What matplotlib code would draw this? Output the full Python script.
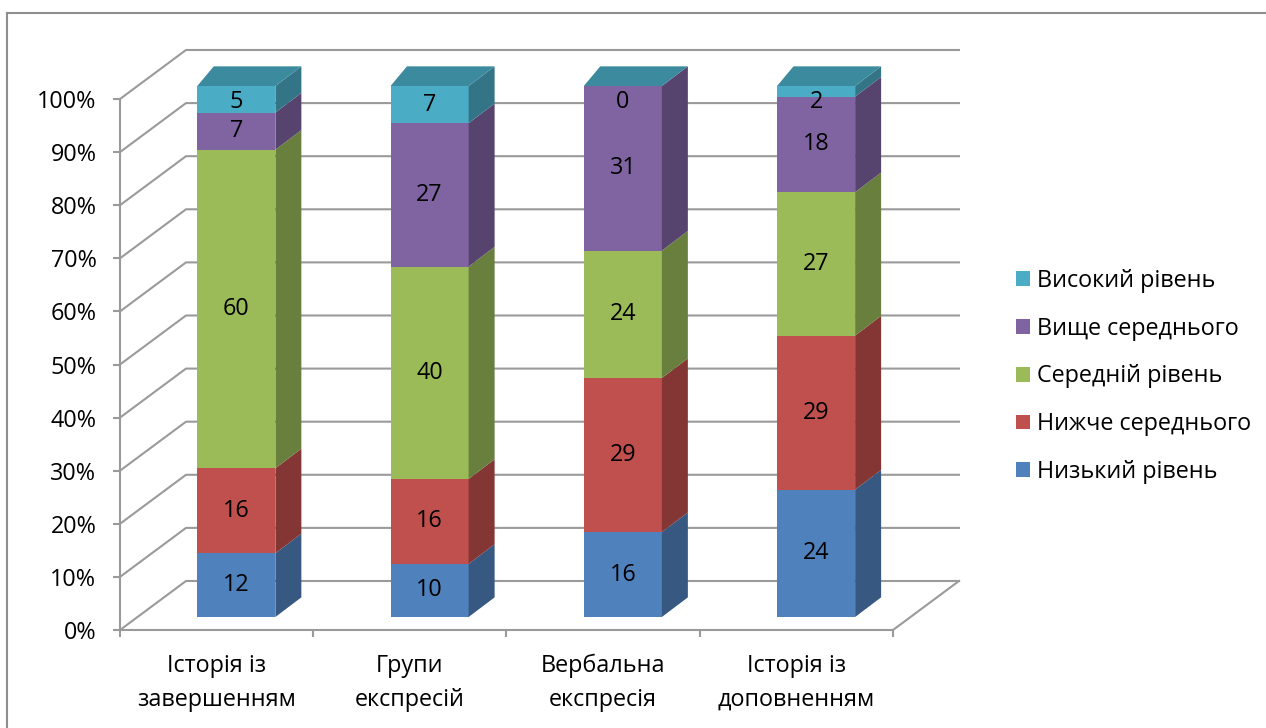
import numpy as np
import matplotlib.pyplot as plt
from matplotlib.patches import Polygon, Patch
from matplotlib.lines import Line2D
from matplotlib.colors import to_rgb

plt.rcParams['font.family'] = ['Open Sans', 'DejaVu Sans']

categories = ['Історія із\nзавершенням', 'Групи\nекспресій',
              'Вербальна\nекспресія', 'Історія із\nдоповненням']
series_names = ['Низький рівень', 'Нижче середнього', 'Середній рівень',
                'Вище середнього', 'Високий рівень']
low = [12, 10, 16, 24]
below_mid = [16, 16, 29, 29]
middle = [60, 40, 24, 27]
above_mid = [7, 27, 31, 18]
high = [5, 7, 0, 2]
y_ticks = list(range(0, 101, 10))
y_labels = [f'{t}%' for t in y_ticks]

colors = ['#4F81BD', '#C0504D', '#9BBB59', '#8064A2', '#4BACC6']
grid_c = '#9A9A9A'
fs = 16.8

# fake 3d: wall depth and bar geometry in data units
DX, DY = 0.3415, 9.23
bar_w, bar_off, bar_lift = 0.404, 0.4, 2.45
side_dx, side_dy, top_dx = 0.1345, 3.7, 0.085


def shade(c, k):
    return tuple(v * k for v in to_rgb(c))


fig = plt.figure(figsize=(12.66, 7.28), dpi=100)
ax = fig.add_axes([120 / 1266, 98 / 728, 773 / 1266, 531 / 728])
ax.set_xlim(0, len(categories))
ax.set_ylim(0, 100)

# walls and floor
n = len(categories)
for t in y_ticks:
    ax.plot([0, DX, n + DX], [t, t + DY, t + DY], color=grid_c, lw=1.5,
            clip_on=False, zorder=1)
ax.plot([n, n + DX], [0, DY], color=grid_c, lw=1.5, clip_on=False, zorder=1)

# stacked bars
data = np.array([low, below_mid, middle, above_mid, high])
for i in range(n):
    x0 = i + bar_off
    x1 = x0 + bar_w
    base = 0
    for s in range(len(data)):
        v = data[s, i]
        y0, y1 = base + bar_lift, base + v + bar_lift
        if v > 0:
            ax.add_patch(Polygon([(x0, y0), (x1, y0), (x1, y1), (x0, y1)],
                                 closed=True, fc=colors[s], ec='none',
                                 clip_on=False, zorder=3))
            ax.add_patch(Polygon([(x1, y0), (x1 + side_dx, y0 + side_dy),
                                  (x1 + side_dx, y1 + side_dy), (x1, y1)],
                                 closed=True, fc=shade(colors[s], 0.68),
                                 ec='none', clip_on=False, zorder=3))
        ly = min((y0 + y1) / 2, 100 + bar_lift - 3)
        ax.text((x0 + x1) / 2, ly, str(v), ha='center', va='center',
                fontsize=fs, zorder=5, clip_on=False)
        base += v
    yt = base + bar_lift
    ax.add_patch(Polygon([(x0, yt), (x1, yt), (x1 + side_dx, yt + side_dy),
                          (x0 + top_dx, yt + side_dy)],
                         closed=True, fc=shade(colors[-1], 0.8), ec='none',
                         clip_on=False, zorder=4))

# axes styling
for sp in ['top', 'right']:
    ax.spines[sp].set_visible(False)
for sp in ['left', 'bottom']:
    ax.spines[sp].set_color(grid_c)
    ax.spines[sp].set_linewidth(1.5)
ax.set_yticks(y_ticks, y_labels)
ax.tick_params(axis='y', length=5, width=1.5, color=grid_c, pad=12,
               labelsize=fs)
ax.set_xticks(range(n + 1), [''] * (n + 1))
ax.tick_params(axis='x', which='major', length=5, width=1.5, color=grid_c)
ax.set_xticks(np.arange(n) + 0.5, categories, minor=True)
ax.tick_params(axis='x', which='minor', length=0, pad=17, labelsize=fs)
for lbl in ax.get_xticklabels(minor=True):
    lbl.set_linespacing(1.55)

handles = [Patch(fc=c, ec='none') for c in colors][::-1]
fig.legend(handles, series_names[::-1], loc='center left',
           bbox_to_anchor=(1016 / 1266, 351.5 / 728), frameon=False,
           fontsize=fs, handlelength=0.6, handleheight=0.6,
           handletextpad=0.28, labelspacing=1.02, borderpad=0,
           borderaxespad=0)

# chart border
bx, by = 7.5 / 1266, 1 - 13 / 728
fig.add_artist(Line2D([bx, 1], [by, by], color='#8E8E8E', lw=1.5))
fig.add_artist(Line2D([bx, bx], [0, by], color='#8E8E8E', lw=1.5))

fig.savefig('out.png', dpi=100)
